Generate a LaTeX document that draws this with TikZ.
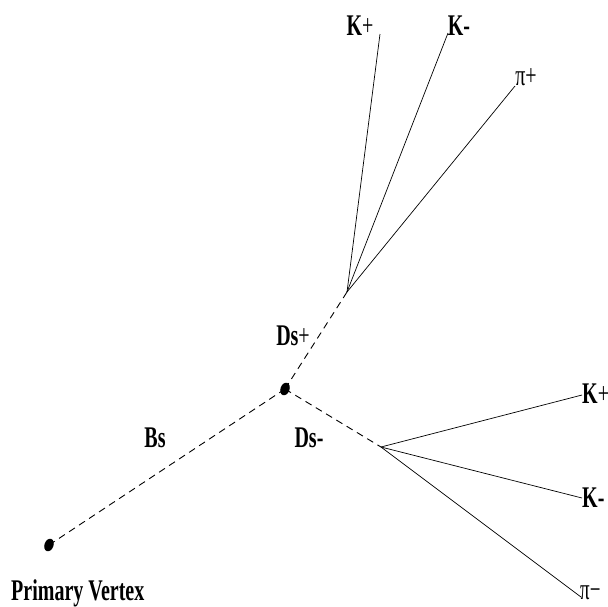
\documentclass[tikz,border=0pt]{standalone}
\usepackage{fontspec}
\setmainfont{Liberation Serif}
\usetikzlibrary{shapes.geometric}
\begin{document}
\begin{tikzpicture}[x=1pt,y=-1pt,
  lbl/.style={inner sep=0pt,font=\fontsize{20}{22}\selectfont},
  vdot/.style={ellipse,fill=black,inner sep=0pt,minimum width=9pt,minimum height=13pt,rotate=-20},
  track/.style={line width=0.7pt},
  flight/.style={line width=0.9pt,dash pattern=on 7pt off 5pt}]
\useasboundingbox (0,0) rectangle (608,606);
% vertices
\node[vdot] (pv) at (49,545) {};
\node[vdot] (bsv) at (285,389) {};
\coordinate (dsp) at (347,292);
\coordinate (dsm) at (381,447);
% track ends
\coordinate (e1) at (380,34);
\coordinate (e2) at (448,33);
\coordinate (e3) at (515,86);
\coordinate (e4) at (582,395);
\coordinate (e5) at (582,498);
\coordinate (e6) at (581,597);
% flight lines
\draw[flight] (pv.center) -- (bsv.center);
\draw[flight] (bsv.center) -- (dsp);
\draw[flight] (bsv.center) -- (dsm);
% tracks
\draw[track] (dsp) -- (e1);
\draw[track] (dsp) -- (e2);
\draw[track] (dsp) -- (e3);
\draw[track] (dsm) -- (e4);
\draw[track] (dsm) -- (e5);
\draw[track] (dsm) -- (e6);
% labels
\node[lbl,anchor=base] (lk1) at (360,35) {\scalebox{1}[1.5]{\textbf{K}+}};
\node[lbl,anchor=base] (lk2) at (459,35) {\scalebox{1}[1.5]{\textbf{K-}}};
\node[lbl,anchor=base] (lpi1) at (526,85) {\scalebox{1}[1.5]{π+}};
\node[lbl,anchor=base] (lds1) at (293,345) {\scalebox{1}[1.5]{\textbf{Ds}+}};
\node[lbl,anchor=base] (lbs) at (155,447) {\scalebox{1}[1.5]{\textbf{Bs}}};
\node[lbl,anchor=base] (lds2) at (309,447) {\scalebox{1}[1.5]{\textbf{Ds-}}};
\node[lbl,anchor=base west] (lk3) at (582,403) {\scalebox{1}[1.5]{\textbf{K}+}};
\node[lbl,anchor=base west] (lk4) at (582,507) {\scalebox{1}[1.5]{\textbf{K-}}};
\node[lbl,anchor=base west] (lpi2) at (580,599) {\scalebox{0.95}[1.5]{π−}};
\node[lbl,anchor=base west] (lpv) at (11,600) {\scalebox{1}[1.5]{\textbf{Primary Vertex}}};
\end{tikzpicture}
\end{document}
